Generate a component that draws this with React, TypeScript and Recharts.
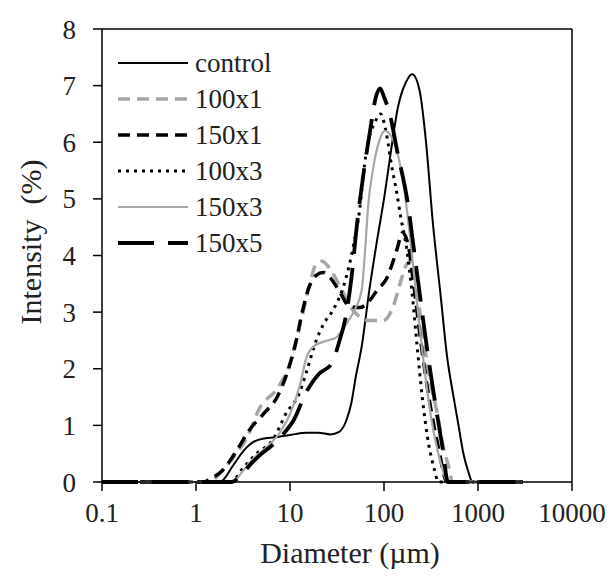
import { LineChart, Line, XAxis, YAxis, ReferenceLine } from 'recharts'

// diameter (µm) / intensity (%) pairs
const control = [
  [0.1, 0], [1, 0], [1.8, 0], [2.5, 0.3], [3.2, 0.55], [4, 0.7], [5, 0.76], [7, 0.79], [10, 0.83],
  [15, 0.87], [20, 0.87], [27, 0.84], [33, 0.88], [40, 1.1], [45, 1.4], [50, 1.85], [58, 2.4],
  [70, 3.4], [85, 4.3], [100, 5.0], [120, 5.9], [140, 6.6], [170, 7.05], [200, 7.2], [240, 6.9],
  [280, 6.0], [330, 4.6], [400, 3.3], [470, 2.2], [550, 1.5], [620, 1.0], [700, 0.5], [800, 0.15],
  [870, 0], [1000, 0], [3000, 0],
]
const s100x1 = [
  [0.1, 0], [1.4, 0], [1.8, 0.16], [2.5, 0.44], [3.5, 0.79], [4.8, 1.32], [7.3, 1.65], [10, 2.1],
  [12, 2.6], [14, 3.05], [16, 3.45], [19, 3.85], [22, 3.9], [27, 3.75], [34, 3.45], [47, 3.03],
  [71, 2.85], [98, 2.85], [124, 3.08], [148, 3.5], [175, 3.85], [190, 3.9], [215, 3.6], [250, 2.8],
  [300, 1.9], [370, 1.2], [430, 0.6], [500, 0.2], [530, 0], [1000, 0], [3000, 0],
]
const s150x1 = [
  [0.1, 0], [1.2, 0], [1.4, 0.05], [1.9, 0.2], [2.7, 0.55], [3.7, 0.92], [5.2, 1.2], [7.3, 1.5],
  [9.3, 1.92], [11.5, 2.45], [13.5, 3.0], [16, 3.45], [19, 3.65], [22.5, 3.7], [27, 3.6], [34, 3.35],
  [43, 3.1], [55, 3.08], [70, 3.2], [84, 3.38], [107, 3.6], [137, 4.1], [157, 4.4], [180, 4.2],
  [210, 3.4], [250, 2.4], [300, 1.5], [380, 0.6], [470, 0], [1000, 0], [3000, 0],
]
const s100x3 = [
  [0.1, 0], [1.5, 0], [2.4, 0], [3, 0.2], [4.4, 0.5], [6.6, 0.75], [9, 1.2], [12.8, 1.6], [15, 1.95],
  [19, 2.5], [23, 2.8], [29, 3.05], [37, 3.45], [47, 4.15], [55, 4.8], [62, 5.6], [70, 6.1], [80, 6.35],
  [92, 6.5], [100, 6.35], [110, 6.0], [120, 5.6], [137, 5.1], [150, 4.7], [175, 4.1], [200, 3.3],
  [225, 2.4], [255, 1.5], [300, 0.65], [340, 0.25], [380, 0], [1000, 0], [3000, 0],
]
const s150x3 = [
  [0.1, 0], [2.5, 0], [3, 0.15], [4, 0.4], [5.5, 0.6], [8, 0.9], [10, 1.2], [12.7, 1.7], [15, 2.2],
  [18, 2.4], [25, 2.5], [31, 2.55], [40, 2.8], [49, 3.05], [58, 3.4], [63, 4.1], [68, 4.9], [76, 5.5],
  [88, 6.0], [102, 6.2], [120, 6.1], [137, 5.85], [160, 5.3], [190, 4.3], [220, 3.3], [260, 2.2],
  [320, 1.1], [400, 0.35], [480, 0], [1000, 0], [3000, 0],
]
const s150x5 = [
  [0.1, 0], [1.5, 0], [2.4, 0], [3, 0.12], [4, 0.35], [5, 0.5], [6.5, 0.65], [8.5, 0.85], [11, 1.1],
  [15, 1.6], [20, 1.9], [28, 2.1], [33, 2.45], [40, 3.0], [45, 3.6], [52, 4.6], [60, 5.4], [71, 6.2],
  [82, 6.8], [91, 6.95], [100, 6.8], [115, 6.5], [140, 5.8], [176, 5.0], [220, 3.8], [290, 2.3],
  [350, 1.4], [420, 0.6], [480, 0], [1000, 0], [3000, 0],
]

const X_TICKS = [0.1, 1, 10, 100, 1000, 10000]
const Y_TICKS = [0, 1, 2, 3, 4, 5, 6, 7, 8]

const FONT = '"Times New Roman", "Liberation Serif", serif'

const SERIES = [
  { name: 'control', data: control, stroke: '#000', width: 2, dash: undefined },
  { name: '100x1', data: s100x1, stroke: '#a6a6a6', width: 3.5, dash: '12 7' },
  { name: '150x1', data: s150x1, stroke: '#000', width: 3.5, dash: '12 7' },
  { name: '100x3', data: s100x3, stroke: '#000', width: 3, dash: '3 5' },
  { name: '150x3', data: s150x3, stroke: '#a6a6a6', width: 2.2, dash: undefined },
  { name: '150x5', data: s150x5, stroke: '#000', width: 3.8, dash: '36 14' },
]

const textStyle = { fontFamily: FONT }

// legend drawn inside the chart svg, top-left of the plot
function LegendBox() {
  return (
    <g transform="translate(118, 63)">
      {SERIES.map((s, i) => (
        <g key={s.name} transform={`translate(0, ${i * 36})`}>
          <line x1={0} x2={70} y1={0} y2={0} stroke={s.stroke} strokeWidth={s.width} strokeDasharray={s.dash} />
          <text x={77} y={0} dy="0.35em" fontSize={27} style={textStyle} fill="#222">{s.name}</text>
        </g>
      ))}
    </g>
  )
}

export default function App() {
  return (
    <div style={{ position: 'absolute', left: 0, top: 0, width: 613, height: 576, background: '#fff', fontFamily: FONT }}>
      <LineChart width={613} height={576} margin={{ top: 29, right: 41, left: 42, bottom: 34 }} style={textStyle}>
        <XAxis
          dataKey="d"
          type="number"
          scale="log"
          domain={[0.1, 10000]}
          ticks={X_TICKS}
          allowDataOverflow
          height={60}
          tickSize={9}
          tickMargin={12}
          stroke="#000"
          strokeWidth={1.5}
          tick={{ fill: '#222', fontSize: 27, style: textStyle }}
          tickFormatter={(v: number) => String(v)}
          label={() => (
            <text x={350} y={552} dy="0.35em" textAnchor="middle" fontSize={30} style={textStyle} fill="#222">
              Diameter (µm)
            </text>
          )}
        />
        <YAxis
          dataKey="v"
          type="number"
          domain={[0, 8]}
          ticks={Y_TICKS}
          interval={0}
          width={60}
          tickSize={9}
          tickMargin={17}
          stroke="#000"
          strokeWidth={1.5}
          tick={{ fill: '#222', fontSize: 27, style: textStyle }}
          label={() => (
            <text
              x={30}
              y={242}
              dy="0.35em"
              textAnchor="middle"
              fontSize={30}
              fill="#222"
              transform="rotate(-90 30 242)"
              style={{ ...textStyle, whiteSpace: 'pre' }}
            >
              {'Intensity  (%)'}
            </text>
          )}
        />
        <ReferenceLine y={8} stroke="#000" strokeWidth={1.5} />
        <ReferenceLine x={10000} stroke="#000" strokeWidth={1.5} />
        {SERIES.map((s) => (
          <Line
            key={s.name}
            name={s.name}
            data={s.data.map(([d, v]) => ({ d, v }))}
            dataKey="v"
            type="monotone"
            stroke={s.stroke}
            strokeWidth={s.width}
            strokeDasharray={s.dash}
            dot={false}
            activeDot={false}
            isAnimationActive={false}
          />
        ))}
        <LegendBox />
      </LineChart>
    </div>
  )
}
